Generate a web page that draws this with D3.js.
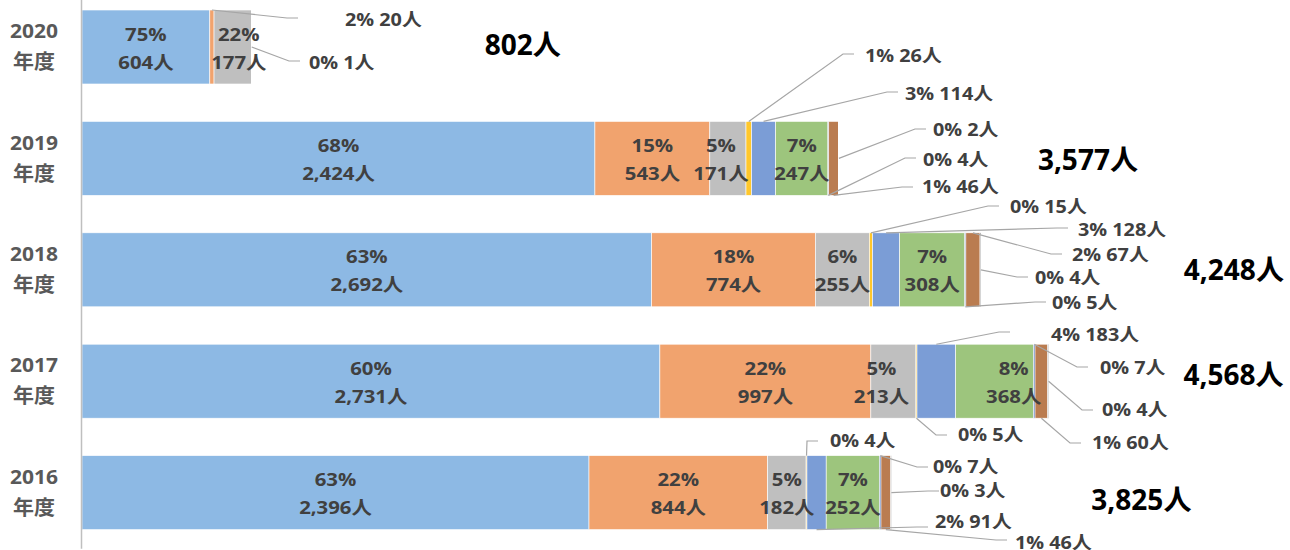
<!DOCTYPE html>
<html>
<head>
<meta charset="utf-8">
<script src="https://cdn.jsdelivr.net/npm/d3@7"></script>
<style>
  html, body { margin: 0; padding: 0; background: #fff; }
  svg { display: block; }
  text { font-family: "Open Sans", "Noto Sans CJK JP", sans-serif; font-weight: 700; white-space: pre; }
</style>
</head>
<body>
<svg id="chart" width="1290" height="550"></svg>
<script>
// Fiscal years, top to bottom
const years = ["2020", "2019", "2018", "2017", "2016"];
const yearSuffix = "年度";

// Head counts per category, in stacking order (one entry per year above)
const catA = [604, 2424, 2692, 2731, 2396];
const catB = [20, 543, 774, 997, 844];
const catC = [177, 171, 255, 213, 182];
const catD = [1, 26, 15, 5, 4];
const catE = [0, 114, 128, 183, 91];
const catF = [0, 247, 308, 368, 252];
const catG = [0, 4, 5, 7, 7];
const catH = [0, 46, 67, 60, 46];
const catI = [0, 2, 4, 4, 3];

const seriesValues = [catA, catB, catC, catD, catE, catF, catG, catH, catI];
const seriesColors = ["#8DB9E4", "#F1A36E", "#BFBFBF", "#FFC72C", "#7B9DD6",
                      "#9DC57D", "#4A6DB0", "#BA7C50", "#7F7F7F"];

// Categories whose labels sit inside the bar when wide enough
const insideSeries = [0, 1, 2, 5];
const insideNudge = { "0-2": 6, "1-2": -7, "3-2": -12, "3-5": 19 };

// Callouts for narrow segments: [year, series, anchor, elbowX, elbowY, textX, textY]
const callouts = [
  [0, 1, "top", 287, 18, 345, 20],
  [0, 3, "right", 289, 61, 309, 63],
  [1, 3, "top", 843, 54, 865, 56],
  [1, 4, "top", 887, 92, 905, 94],
  [1, 8, "right", 915, 129, 933, 130],
  [1, 6, "bottom", 905, 158, 923, 160],
  [1, 7, "bottom", 902, 187, 922, 187],
  [2, 3, "top", 988, 206, 1010, 207],
  [2, 4, "top", 1057, 228, 1078, 230],
  [2, 7, "top", 1051, 254, 1072, 255],
  [2, 8, "right", 1017, 277, 1035, 278],
  [2, 6, "bottom", 1035, 302, 1052, 303],
  [3, 4, "top", 999, 332, 1051, 335],
  [3, 6, "top", 1077, 367, 1100, 368],
  [3, 8, "right", 1082, 410, 1102, 410],
  [3, 7, "bottom", 1070, 443, 1092, 443],
  [3, 3, "bottom", 936, 435, 958, 435],
  [4, 3, "top", 807, 441, 830, 441],
  [4, 6, "top", 917, 467, 933, 467],
  [4, 8, "right", 928, 491, 940, 491],
  [4, 4, "bottom", 917, 527, 935, 522],
  [4, 7, "bottom", 996, 540, 1015, 543]
];

// Placement of the year totals relative to the bar end
const totalOffsetX = [271, 249, 253, 185, 250];
const totalOffsetY = [-2, 2, 0, -6, 7];

const svg = d3.select("#chart");
svg.append("rect").attr("width", 1290).attr("height", 550).attr("fill", "#fff");

const x = d3.scaleLinear().domain([0, 5000]).range([82, 1140]);
const y = d3.scaleBand().domain(years).range([-8.7, 548.3])
  .paddingInner(0.336).paddingOuter(0.168);

const totals = years.map((_, i) => d3.sum(seriesValues, s => s[i]));

// Stacked segments
const segs = [];
years.forEach((yr, i) => {
  let acc = 0;
  seriesValues.forEach((s, k) => {
    const v = s[i];
    segs.push({ i, k, yr, v, x0: acc, x1: acc + v });
    acc += v;
  });
});

const fmtNum = d3.format(",");
const pct = (v, i) => Math.round(v / totals[i] * 100) + "%";

function label(g, px, py, str, opt) {
  const o = Object.assign({ size: 18.5, anchor: "middle", fill: "#404040", sx: 1.1 }, opt || {});
  return g.append("text")
    .attr("transform", `translate(${px},${py}) scale(${o.sx},1)`)
    .attr("text-anchor", o.anchor)
    .attr("dy", "0.36em")
    .attr("font-size", o.size)
    .attr("fill", o.fill)
    .text(str);
}

const gBars = svg.append("g");
gBars.selectAll("rect")
  .data(segs.filter(d => d.v > 0))
  .join("rect")
  .attr("x", d => x(d.x0))
  .attr("width", d => x(d.x1) - x(d.x0))
  .attr("y", d => y(d.yr))
  .attr("height", y.bandwidth())
  .attr("fill", d => seriesColors[d.k])
  .attr("stroke", "#fff")
  .attr("stroke-width", 0.6);

// Vertical category axis
const axis = svg.append("g")
  .attr("transform", `translate(${x(0) - 1},0)`)
  .call(d3.axisLeft(y).tickSize(0).tickFormat(""));
axis.select(".domain").attr("stroke", "#BFBFBF").attr("stroke-width", 1.5);

// Year labels
const gY = svg.append("g");
years.forEach(yr => {
  const c = y(yr) + y.bandwidth() / 2;
  label(gY, 34, c - 16, yr, { size: 20, fill: "#595959", sx: 1.05 });
  label(gY, 34, c + 15, yearSuffix, { size: 20, fill: "#595959", sx: 1.05 });
});

// Labels inside wide segments
const gIn = svg.append("g");
segs.filter(d => insideSeries.includes(d.k) && d.v >= 100).forEach(d => {
  const c = y(d.yr) + y.bandwidth() / 2;
  const cx = (x(d.x0) + x(d.x1)) / 2 + (insideNudge[d.i + "-" + d.k] || 0);
  label(gIn, cx, c - 13, pct(d.v, d.i));
  label(gIn, cx, c + 15, fmtNum(d.v) + "人");
});

// Callouts with leader lines
const gOut = svg.append("g");
callouts.forEach(([i, k, anchor, ex, ey, tx, ty]) => {
  const d = segs.find(s => s.i === i && s.k === k);
  const top = y(d.yr), bot = top + y.bandwidth();
  let ax, ay;
  if (anchor === "top") { ax = (x(d.x0) + x(d.x1)) / 2; ay = top; }
  else if (anchor === "bottom") { ax = (x(d.x0) + x(d.x1)) / 2; ay = bot; }
  else { ax = x(d.x1); ay = (top + bot) / 2; }
  gOut.append("path")
    .attr("d", d3.line()([[ax, ay], [ex, ey], [ex + 11, ey]]))
    .attr("fill", "none")
    .attr("stroke", "#A6A6A6")
    .attr("stroke-width", 1.2);
  label(gOut, tx, ty, pct(d.v, i) + " " + fmtNum(d.v) + "人", { anchor: "start", size: 18 });
});

// Year totals
const gTot = svg.append("g");
years.forEach((yr, i) => {
  const c = y(yr) + y.bandwidth() / 2;
  label(gTot, x(totals[i]) + totalOffsetX[i], c + totalOffsetY[i],
        fmtNum(totals[i]) + "人", { size: 28, fill: "#000", sx: 1.0 });
});
</script>
</body>
</html>
